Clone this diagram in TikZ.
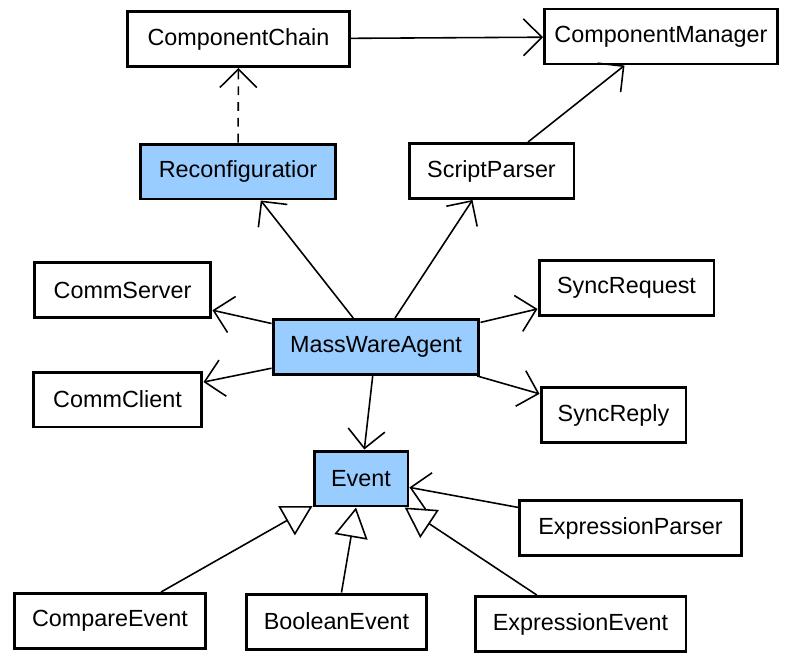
\documentclass[tikz,border=0pt]{standalone}
\usepackage{fontspec}
\setmainfont{Liberation Sans}
\usetikzlibrary{arrows.meta}
\definecolor{classblue}{RGB}{153,204,255}
\begin{document}
\begin{tikzpicture}[
	x=0.02cm, y=-0.02cm,
	cls/.style={ draw, line width=1.7pt, fill=white, inner sep=0pt, minimum height=1.1cm, font=\fontsize{13.3}{16}\selectfont },
	clsb/.style={ cls, fill=classblue },
	uses/.style={ line width=0.9pt, -{Straight Barb[length=7pt,width=14pt,line width=0.9pt,scale=1.5]} },
	dep/.style={ uses, dash pattern=on 5pt off 4pt },
	inh/.style={ line width=0.9pt, -{Triangle[open,length=17pt,width=19pt,line width=0.9pt,fill=white]} }
]
\useasboundingbox (0,0) rectangle (786,652);

\node at (238.5,39) (cchain) [cls,minimum width=4.44cm] {ComponentChain};
\node at (661,36.5) (cmanager) [cls,minimum width=4.66cm] {ComponentManager};
\node at (238,171.5) (reconf) [clsb,minimum width=3.92cm] {Reconfiguratior};
\node at (491.5,171) (sparser) [cls,minimum width=3.3cm] {ScriptParser};
\node at (122.5,290) (cserver) [cls,minimum width=3.54cm] {CommServer};
\node at (117.5,399.5) (cclient) [cls,minimum width=3.38cm] {CommClient};
\node at (376,347) (agent) [clsb,minimum width=4.12cm] {MassWareAgent};
\node at (626.5,288) (sreq) [cls,minimum width=3.5cm] {SyncRequest};
\node at (613.5,415) (sreply) [cls,minimum width=2.9cm] {SyncReply};
\node at (361,478.5) (event) [clsb,minimum width=1.88cm] {Event};
\node at (630.5,528) (eparser) [cls,minimum width=4.44cm] {ExpressionParser};
\node at (110,621) (cevent) [cls,minimum width=3.84cm] {CompareEvent};
\node at (336.5,621.5) (bevent) [cls,minimum width=3.62cm] {BooleanEvent};
\node at (580.5,624) (eevent) [cls,minimum width=4.22cm] {ExpressionEvent};

\draw[uses] (cchain) -- (cmanager);
\draw[dep] (reconf) -- (cchain);
\draw[uses] (sparser) -- (cmanager);
\draw[uses] (agent) -- (reconf);
\draw[uses] (agent) -- (sparser);
\draw[uses] (agent) -- (cserver);
\draw[uses] (agent) -- (cclient);
\draw[uses] (agent) -- (sreq);
\draw[uses] (agent) -- (sreply);
\draw[uses] (agent) -- (event);
\draw[uses] (eparser) -- (event);
\draw[inh] (cevent) -- (event);
\draw[inh] (bevent) -- (event);
\draw[inh] (eevent) -- (event);

\end{tikzpicture}
\end{document}
